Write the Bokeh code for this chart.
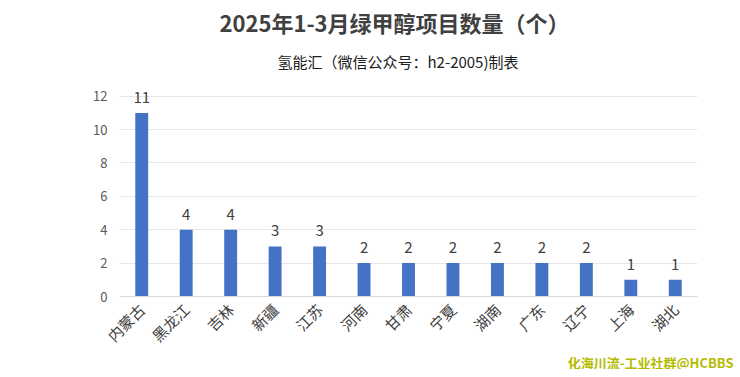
from bokeh.plotting import figure
from bokeh.models import Range1d, FixedTicker, Title, ColumnDataSource
from bokeh.core.properties import value
from bokeh.embed import file_html
from bokeh.resources import INLINE
import math

regions = ["内蒙古", "黑龙江", "吉林", "新疆", "江苏", "河南", "甘肃", "宁夏", "湖南", "广东", "辽宁", "上海", "湖北"]
counts = [11, 4, 4, 3, 3, 2, 2, 2, 2, 2, 2, 1, 1]
y_ticks = [0, 2, 4, 6, 8, 10, 12]
title_text = "2025年1-3月绿甲醇项目数量（个）"
subtitle_text = "氢能汇（微信公众号：h2-2005)制表"
watermark_text = "化海川流-工业社群@HCBBS"

FONT = "Noto Sans CJK SC"

src = ColumnDataSource(dict(x=regions, y=counts, lbl=[str(c) for c in counts]))

p = figure(width=740, height=369, x_range=regions, y_range=Range1d(0, 13),
           output_backend="svg", toolbar_location=None,
           min_border_left=119, min_border_right=43, min_border_top=78, min_border_bottom=73)
p.x_range.range_padding = 0
p.outline_line_color = None
p.background_fill_color = "white"
p.border_fill_color = "white"

p.vbar(x="x", top="y", width=0.29, source=src, color="#4472C4", line_color=None)
p.text(x="x", y="y", text="lbl", source=src, text_align="center", text_baseline="bottom",
       y_offset=-10, text_font=value(FONT), text_font_size="15px", text_color="#404040")

p.yaxis.ticker = FixedTicker(ticks=y_ticks)
p.yaxis.axis_line_color = None
p.yaxis.major_tick_line_color = None
p.yaxis.minor_tick_line_color = None
p.yaxis.major_label_standoff = 6
p.yaxis.major_label_text_font = FONT
p.yaxis.major_label_text_font_size = "13px"
p.yaxis.major_label_text_color = "#595959"

p.xaxis.axis_line_color = "#d9d9d9"
p.xaxis.major_tick_line_color = None
p.xaxis.minor_tick_line_color = None
p.xaxis.major_label_orientation = math.pi / 4
p.xaxis.major_label_standoff = 4
p.xaxis.major_label_text_font = FONT
p.xaxis.major_label_text_font_size = "15px"
p.xaxis.major_label_text_color = "#404040"

p.xgrid.grid_line_color = None
p.ygrid.ticker = FixedTicker(ticks=y_ticks)
p.ygrid.grid_line_color = "#e6e6e6"

p.add_layout(Title(text=subtitle_text, align="left", offset=158, standoff=12,
                   vertical_align="top",
                   text_font=FONT, text_font_size="15px", text_font_style="normal",
                   text_color="#202020"), "above")
p.add_layout(Title(text=title_text, align="left", offset=100, standoff=10,
                   vertical_align="top",
                   text_font=FONT, text_font_size="22px", text_font_style="bold",
                   text_color="#404040"), "above")
p.add_layout(Title(text=watermark_text, align="right", offset=-36, standoff=-12,
                   text_font=FONT, text_font_size="13px", text_font_style="bold",
                   text_color="#b3bc00"), "below")

open("out.html", "w").write(file_html(p, INLINE))
